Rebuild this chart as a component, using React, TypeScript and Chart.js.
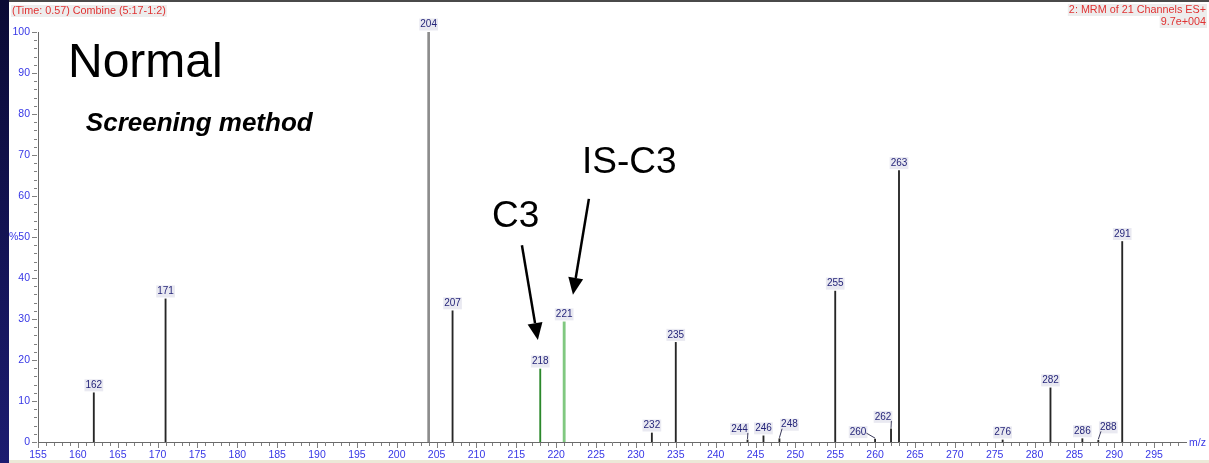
import React, { useEffect, useRef } from "react";
import { Chart, registerables } from "chart.js";

Chart.register(...registerables);

// MRM spectrum: m/z of each peak and its relative intensity (%)
const peakMz = [162, 171, 204, 207, 218, 221, 232, 235, 244, 246, 248, 255, 260, 262, 263, 276, 282, 286, 288, 291];
const peakIntensity = [12.0, 34.9, 100, 32.0, 17.8, 29.3, 2.2, 24.3, 0.5, 1.5, 0.8, 36.8, 0.7, 3.2, 66.2, 0.5, 13.2, 0.8, 0.4, 48.9];

const basePeakMz = 204;
const analyteMz = 218; // C3
const standardMz = 221; // IS-C3

const xTickLabels = [155, 160, 165, 170, 175, 180, 185, 190, 195, 200, 205, 210, 215, 220, 225, 230, 235, 240, 245, 250, 255, 260, 265, 270, 275, 280, 285, 290, 295];
const yTickLabels = [0, 10, 20, 30, 40, 50, 60, 70, 80, 90, 100];

const headerLeft = "(Time: 0.57) Combine (5:17-1:2)";
const headerRight = "2: MRM of 21 Channels ES+";
const headerScale = "9.7e+004";
const xUnit = "m/z";
const titleText = "Normal";
const subtitleText = "Screening method";
const analyteText = "C3";
const standardText = "IS-C3";

// label placement for small crowded peaks: [dx, dy] of label centre from stick top
const labelShift: Record<number, [number, number]> = {
  244: [-8, -11],
  248: [10, -14],
  260: [-17, -7],
  262: [-8, -12],
  288: [10, -13],
};

const FONT = "Arial, 'Liberation Sans', sans-serif";

function pointsWhere(test: (mz: number) => boolean) {
  return peakMz
    .map((mz, i) => ({ x: mz, y: peakIntensity[i] }))
    .filter((p) => test(p.x));
}

function drawArrow(ctx: CanvasRenderingContext2D, x1: number, y1: number, x2: number, y2: number) {
  const ang = Math.atan2(y2 - y1, x2 - x1);
  const L = 17;
  const W = 7.5;
  const bx = x2 - L * Math.cos(ang);
  const by = y2 - L * Math.sin(ang);
  ctx.strokeStyle = "#000";
  ctx.fillStyle = "#000";
  ctx.lineWidth = 2.5;
  ctx.beginPath();
  ctx.moveTo(x1, y1);
  ctx.lineTo(bx, by);
  ctx.stroke();
  ctx.beginPath();
  ctx.moveTo(x2, y2);
  ctx.lineTo(bx + W * Math.sin(ang), by - W * Math.cos(ang));
  ctx.lineTo(bx - W * Math.sin(ang), by + W * Math.cos(ang));
  ctx.closePath();
  ctx.fill();
}

const spectrumDecor = {
  id: "spectrumDecor",
  afterDraw(chart: any) {
    const { ctx, scales } = chart;
    const xs = scales.x;
    const ys = scales.y;
    const area = chart.chartArea;
    ctx.save();

    // axis tick marks
    ctx.strokeStyle = "#808080";
    ctx.lineWidth = 1;
    ctx.beginPath();
    for (let v = 0; v <= 100; v += 2) {
      const py = Math.round(ys.getPixelForValue(v)) + 0.5;
      const len = v % 10 === 0 ? 5 : 3;
      ctx.moveTo(area.left - 1, py);
      ctx.lineTo(area.left - 1 - len, py);
    }
    for (let v = 155; v <= 298; v += 1) {
      const px = Math.round(xs.getPixelForValue(v)) + 0.5;
      const len = v % 5 === 0 ? 5 : 3;
      ctx.moveTo(px, area.bottom + 1);
      ctx.lineTo(px, area.bottom + 1 + len);
    }
    ctx.stroke();

    // axis unit
    ctx.font = `10.5px ${FONT}`;
    ctx.fillStyle = "#3737e6";
    ctx.textBaseline = "middle";
    ctx.textAlign = "left";
    ctx.fillText(xUnit, area.right + 3, area.bottom + 1);

    // peak labels
    ctx.font = `10px ${FONT}`;
    ctx.textAlign = "center";
    ctx.textBaseline = "middle";
    peakMz.forEach((mz, i) => {
      const px = xs.getPixelForValue(mz);
      const top = ys.getPixelForValue(peakIntensity[i]);
      const shift = labelShift[mz];
      const cx = px + (shift ? shift[0] : 0);
      const cy = top + (shift ? shift[1] : -7.5);
      const text = String(mz);
      const w = ctx.measureText(text).width;
      ctx.fillStyle = "rgba(226,226,236,0.75)";
      ctx.fillRect(cx - w / 2 - 1, cy - 6, w + 2, 12);
      ctx.fillStyle = "#26267a";
      ctx.fillText(text, cx, cy);
      if (shift) {
        ctx.strokeStyle = "#3a3a5a";
        ctx.lineWidth = 1;
        ctx.beginPath();
        const sx = cx + (shift[0] < 0 ? w / 2 : -w / 2 + 1);
        const sy = cy + (Math.abs(shift[1]) < 9 ? 1 : 4);
        ctx.moveTo(sx, sy);
        ctx.lineTo(px, top - 1);
        ctx.stroke();
      }
    });

    // header texts
    ctx.font = `10.8px ${FONT}`;
    ctx.textBaseline = "middle";
    const drawHead = (text: string, x: number, y: number, align: CanvasTextAlign) => {
      const w = ctx.measureText(text).width;
      const left = align === "left" ? x : x - w;
      ctx.fillStyle = "rgba(232,232,232,0.8)";
      ctx.fillRect(left - 1, y - 6, w + 2, 12);
      ctx.fillStyle = "#e03232";
      ctx.textAlign = align;
      ctx.fillText(text, x, y);
    };
    drawHead(headerLeft, 12, 11, "left");
    drawHead(headerRight, 1206, 10, "right");
    drawHead(headerScale, 1206, 22, "right");

    // annotations placed in data space
    const P = (x: number, y: number) => [xs.getPixelForValue(x), ys.getPixelForValue(y)];
    ctx.fillStyle = "#000";
    ctx.textAlign = "left";
    ctx.textBaseline = "alphabetic";
    let p = P(158.76, 89.0);
    ctx.font = `48px ${FONT}`;
    ctx.fillText(titleText, p[0], p[1]);
    p = P(161.0, 75.85);
    ctx.font = `italic bold 26px ${FONT}`;
    ctx.fillText(subtitleText, p[0], p[1]);
    ctx.font = `37px ${FONT}`;
    p = P(211.95, 52.4);
    ctx.fillText(analyteText, p[0], p[1]);
    p = P(223.24, 65.6);
    ctx.fillText(standardText, p[0], p[1]);

    let a = P(215.7, 48.0);
    let b = P(217.7, 24.9);
    drawArrow(ctx, a[0], a[1], b[0], b[1]);
    a = P(224.1, 59.3);
    b = P(222.1, 35.9);
    drawArrow(ctx, a[0], a[1], b[0], b[1]);

    ctx.restore();
  },
};

export default function App() {
  const canvasRef = useRef<HTMLCanvasElement | null>(null);

  useEffect(() => {
    const canvas = canvasRef.current;
    if (!canvas) return;
    const others = (mz: number) => mz !== basePeakMz && mz !== analyteMz && mz !== standardMz;
    const chart = new Chart(canvas, {
      type: "bar",
      data: {
        datasets: [
          { label: "peaks", data: pointsWhere(others), backgroundColor: "#262626", barThickness: 1.2 },
          { label: "base", data: pointsWhere((m) => m === basePeakMz), backgroundColor: "#8c8c8c", barThickness: 2 },
          { label: "C3", data: pointsWhere((m) => m === analyteMz), backgroundColor: "#2a882a", barThickness: 1.2 },
          { label: "IS-C3", data: pointsWhere((m) => m === standardMz), backgroundColor: "#80c880", barThickness: 2.2 },
        ] as any,
      },
      options: {
        responsive: false,
        animation: false,
        devicePixelRatio: 1,
        datasets: { bar: { grouped: false } } as any,
        layout: { padding: { top: 32, right: 23, left: 0, bottom: 0 } },
        plugins: { legend: { display: false }, tooltip: { enabled: false } },
        events: [],
        scales: {
          x: {
            type: "linear",
            min: 155,
            max: 299,
            offset: false,
            grid: { display: false, drawTicks: false },
            border: { display: true, color: "#6a6a6a", width: 1 },
            ticks: {
              stepSize: 1,
              autoSkip: false,
              maxRotation: 0,
              padding: 7,
              color: "#3737e6",
              font: { family: FONT, size: 10.5 },
              callback: (v: any) => (xTickLabels.includes(Number(v)) ? String(v) : ""),
            },
            afterFit: (s: any) => {
              s.height = 21;
              s.paddingLeft = 0;
              s.paddingRight = 0;
            },
          },
          y: {
            min: 0,
            max: 100,
            grid: { display: false, drawTicks: false },
            border: { display: true, color: "#6a6a6a", width: 1 },
            ticks: {
              stepSize: 2,
              autoSkip: false,
              padding: 8,
              color: "#3737e6",
              font: { family: FONT, size: 10.5 },
              callback: (v: any) => {
                const n = Number(v);
                if (!yTickLabels.includes(n)) return "";
                return n === 50 ? "%50" : String(n);
              },
            },
            afterFit: (s: any) => {
              s.width = 38;
              s.paddingTop = 0;
              s.paddingBottom = 0;
            },
          },
        },
      },
      plugins: [spectrumDecor],
    });
    return () => chart.destroy();
  }, []);

  return (
    <div
      style={{
        position: "absolute",
        left: 0,
        top: 0,
        width: 1209,
        height: 463,
        background: "#ffffff",
        overflow: "hidden",
      }}
    >
      <canvas ref={canvasRef} width={1209} height={463} style={{ position: "absolute", left: 0, top: 0 }} />
      <div
        style={{
          position: "absolute",
          left: 0,
          top: 0,
          width: 9,
          height: 463,
          background: "linear-gradient(180deg, #0a0a34 0%, #141456 55%, #1c1c70 100%)",
        }}
      />
      <div style={{ position: "absolute", left: 9, top: 0, width: 1200, height: 2, background: "#4a4a4a" }} />
      <div style={{ position: "absolute", left: 9, top: 460, width: 1200, height: 3, background: "#ece9d8" }} />
    </div>
  );
}
